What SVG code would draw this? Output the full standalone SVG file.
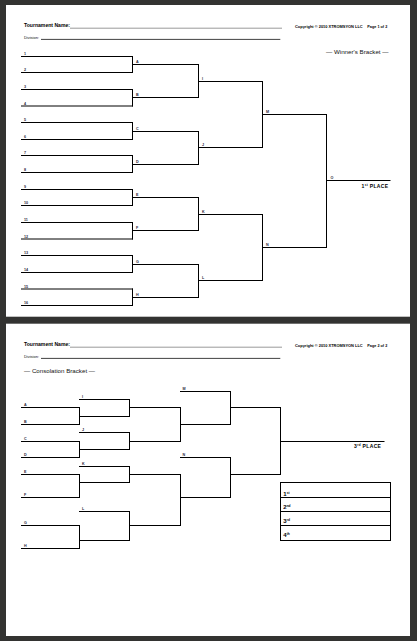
<svg xmlns="http://www.w3.org/2000/svg" width="417" height="641" viewBox="0 0 417 641">
<style>
.ln{stroke:#000;stroke-width:1;fill:none;stroke-linecap:square}
.lb{font-family:"Liberation Sans",Arial,sans-serif;font-size:3.7px;font-weight:bold;fill:#2a2a3a}
.hd{font-family:"Liberation Sans",Arial,sans-serif;font-weight:bold;fill:#000}
.sm{font-family:"Liberation Sans",Arial,sans-serif;fill:#111}
.pl{font-family:"Liberation Sans",Arial,sans-serif;font-weight:bold;fill:#000;font-size:5px;letter-spacing:0.35px}
.bx{font-family:"Liberation Sans",Arial,sans-serif;font-weight:bold;fill:#000;font-size:6px}
</style>
<rect x="0" y="0" width="417" height="641" fill="#333331"/>
<rect x="6" y="5" width="404" height="311.7" fill="#fff"/>
<rect x="6" y="323.7" width="404" height="312.3" fill="#fff"/>

<!-- Page 1 header -->
<g id="header1">
<text class="hd" x="24" y="27" font-size="6.2" textLength="46" lengthAdjust="spacingAndGlyphs">Tournament Name:</text>
<line x1="70" y1="28.2" x2="282" y2="28.2" stroke="#555" stroke-width="0.6"/>
<text class="hd" x="295" y="27.6" font-size="3.2" textLength="67.7" lengthAdjust="spacingAndGlyphs">Copyright © 2010 XTROMSYON LLC</text>
<text class="hd" x="367.3" y="27.6" font-size="3.2" textLength="20" lengthAdjust="spacingAndGlyphs">Page 1 of 2</text>
<text class="sm" x="24" y="38.8" font-size="3.4" textLength="15" lengthAdjust="spacingAndGlyphs">Division:</text>
<line x1="41" y1="39.4" x2="280.3" y2="39.4" stroke="#111" stroke-width="0.8"/>
<text class="sm" x="326" y="53.6" font-size="4.7" textLength="62.5" lengthAdjust="spacingAndGlyphs">— Winner's Bracket —</text>
</g>

<!-- Winner's bracket round 1 slots -->
<g id="w-r1">
<g id="w1"><line class="ln" x1="21.5" y1="56.5" x2="132.5" y2="56.5"/><text class="lb" x="24" y="55">1</text></g>
<g id="w2"><line class="ln" x1="21.5" y1="72.5" x2="132.5" y2="72.5"/><text class="lb" x="24" y="71">2</text></g>
<g id="w3"><line class="ln" x1="21.5" y1="89.5" x2="132.5" y2="89.5"/><text class="lb" x="24" y="88">3</text></g>
<g id="w4"><line class="ln" x1="21.5" y1="106" x2="132.5" y2="106"/><text class="lb" x="24" y="104.5">4</text></g>
<g id="w5"><line class="ln" x1="21.5" y1="122.5" x2="132.5" y2="122.5"/><text class="lb" x="24" y="121">5</text></g>
<g id="w6"><line class="ln" x1="21.5" y1="139.5" x2="132.5" y2="139.5"/><text class="lb" x="24" y="138">6</text></g>
<g id="w7"><line class="ln" x1="21.5" y1="155.5" x2="132.5" y2="155.5"/><text class="lb" x="24" y="154">7</text></g>
<g id="w8"><line class="ln" x1="21.5" y1="172.5" x2="132.5" y2="172.5"/><text class="lb" x="24" y="171">8</text></g>
<g id="w9"><line class="ln" x1="21.5" y1="189.5" x2="132.5" y2="189.5"/><text class="lb" x="24" y="188">9</text></g>
<g id="w10"><line class="ln" x1="21.5" y1="205.5" x2="132.5" y2="205.5"/><text class="lb" x="24" y="204">10</text></g>
<g id="w11"><line class="ln" x1="21.5" y1="222.5" x2="132.5" y2="222.5"/><text class="lb" x="24" y="221">11</text></g>
<g id="w12"><line class="ln" x1="21.5" y1="239" x2="132.5" y2="239"/><text class="lb" x="24" y="237.5">12</text></g>
<g id="w13"><line class="ln" x1="21.5" y1="255.5" x2="132.5" y2="255.5"/><text class="lb" x="24" y="254">13</text></g>
<g id="w14"><line class="ln" x1="21.5" y1="272.5" x2="132.5" y2="272.5"/><text class="lb" x="24" y="271">14</text></g>
<g id="w15"><line class="ln" x1="21.5" y1="289" x2="132.5" y2="289"/><text class="lb" x="24" y="287.5">15</text></g>
<g id="w16"><line class="ln" x1="21.5" y1="305.5" x2="132.5" y2="305.5"/><text class="lb" x="24" y="304">16</text></g>
</g>

<!-- Winner's round 2 -->
<g id="w-r2">
<g id="wA"><line class="ln" x1="132.5" y1="64.5" x2="198.5" y2="64.5"/><text class="lb" x="136" y="63">A</text></g>
<g id="wB"><line class="ln" x1="132.5" y1="97.5" x2="198.5" y2="97.5"/><text class="lb" x="136" y="96">B</text></g>
<g id="wC"><line class="ln" x1="132.5" y1="131.5" x2="198.5" y2="131.5"/><text class="lb" x="136" y="130">C</text></g>
<g id="wD"><line class="ln" x1="132.5" y1="164.5" x2="198.5" y2="164.5"/><text class="lb" x="136" y="163">D</text></g>
<g id="wE"><line class="ln" x1="132.5" y1="197.5" x2="198.5" y2="197.5"/><text class="lb" x="136" y="196">E</text></g>
<g id="wF"><line class="ln" x1="132.5" y1="230.5" x2="198.5" y2="230.5"/><text class="lb" x="136" y="229">F</text></g>
<g id="wG"><line class="ln" x1="132.5" y1="264.5" x2="198.5" y2="264.5"/><text class="lb" x="136" y="263">G</text></g>
<g id="wH"><line class="ln" x1="132.5" y1="297.5" x2="198.5" y2="297.5"/><text class="lb" x="136" y="296">H</text></g>
</g>

<!-- Winner's round 3 -->
<g id="w-r3">
<g id="wI"><line class="ln" x1="198.5" y1="81.5" x2="262.5" y2="81.5"/><text class="lb" x="202" y="80">I</text></g>
<g id="wJ"><line class="ln" x1="198.5" y1="147.5" x2="262.5" y2="147.5"/><text class="lb" x="202" y="146">J</text></g>
<g id="wK"><line class="ln" x1="198.5" y1="214.5" x2="262.5" y2="214.5"/><text class="lb" x="202" y="213">K</text></g>
<g id="wL"><line class="ln" x1="198.5" y1="280.5" x2="262.5" y2="280.5"/><text class="lb" x="202" y="279">L</text></g>
</g>

<!-- Winner's round 4 & final -->
<g id="w-r4">
<g id="wM"><line class="ln" x1="262.5" y1="114.5" x2="326.5" y2="114.5"/><text class="lb" x="266" y="113">M</text></g>
<g id="wN"><line class="ln" x1="262.5" y1="247.5" x2="326.5" y2="247.5"/><text class="lb" x="266" y="246">N</text></g>
</g>
<g id="w-final">
<line class="ln" x1="326.5" y1="180.5" x2="390" y2="180.5"/>
<text class="lb" x="330.5" y="179">O</text>
<text class="pl" x="361.5" y="187.6">1<tspan font-size="3" dy="-1.6">st</tspan><tspan dy="1.6"> PLACE</tspan></text>
</g>

<!-- Winner's connectors -->
<g id="w-connectors" class="ln">
<line x1="132.5" y1="56.5" x2="132.5" y2="72.5"/>
<line x1="132.5" y1="89.5" x2="132.5" y2="106"/>
<line x1="132.5" y1="122.5" x2="132.5" y2="139.5"/>
<line x1="132.5" y1="155.5" x2="132.5" y2="172.5"/>
<line x1="132.5" y1="189.5" x2="132.5" y2="205.5"/>
<line x1="132.5" y1="222.5" x2="132.5" y2="239"/>
<line x1="132.5" y1="255.5" x2="132.5" y2="272.5"/>
<line x1="132.5" y1="289" x2="132.5" y2="305.5"/>
<line x1="198.5" y1="64.5" x2="198.5" y2="97.5"/>
<line x1="198.5" y1="131.5" x2="198.5" y2="164.5"/>
<line x1="198.5" y1="197.5" x2="198.5" y2="230.5"/>
<line x1="198.5" y1="264.5" x2="198.5" y2="297.5"/>
<line x1="262.5" y1="81.5" x2="262.5" y2="147.5"/>
<line x1="262.5" y1="214.5" x2="262.5" y2="280.5"/>
<line x1="326.5" y1="114.5" x2="326.5" y2="247.5"/>
</g>

<!-- Page 2 header -->
<g id="header2">
<text class="hd" x="24" y="346" font-size="6.2" textLength="46" lengthAdjust="spacingAndGlyphs">Tournament Name:</text>
<line x1="70" y1="347.2" x2="282" y2="347.2" stroke="#555" stroke-width="0.6"/>
<text class="hd" x="295" y="346.6" font-size="3.2" textLength="67.7" lengthAdjust="spacingAndGlyphs">Copyright © 2010 XTROMSYON LLC</text>
<text class="hd" x="367.3" y="346.6" font-size="3.2" textLength="20" lengthAdjust="spacingAndGlyphs">Page 2 of 2</text>
<text class="sm" x="24" y="357.8" font-size="3.4" textLength="15" lengthAdjust="spacingAndGlyphs">Division:</text>
<line x1="41" y1="358.4" x2="280.3" y2="358.4" stroke="#111" stroke-width="0.8"/>
<text class="sm" x="24" y="373.2" font-size="4.7" textLength="71" lengthAdjust="spacingAndGlyphs">— Consolation Bracket —</text>
</g>

<!-- Consolation round 1 -->
<g id="c-r1">
<g id="cA"><line class="ln" x1="21.5" y1="407.5" x2="79.5" y2="407.5"/><text class="lb" x="24" y="406">A</text></g>
<g id="cB"><line class="ln" x1="21.5" y1="424.5" x2="79.5" y2="424.5"/><text class="lb" x="24" y="423">B</text></g>
<g id="cC"><line class="ln" x1="21.5" y1="441.5" x2="79.5" y2="441.5"/><text class="lb" x="24" y="440">C</text></g>
<g id="cD"><line class="ln" x1="21.5" y1="457.5" x2="79.5" y2="457.5"/><text class="lb" x="24" y="456">D</text></g>
<g id="cE"><line class="ln" x1="21.5" y1="474.5" x2="79.5" y2="474.5"/><text class="lb" x="24" y="473">E</text></g>
<g id="cF"><line class="ln" x1="21.5" y1="497.5" x2="79.5" y2="497.5"/><text class="lb" x="24" y="496">F</text></g>
<g id="cG"><line class="ln" x1="21.5" y1="525.5" x2="79.5" y2="525.5"/><text class="lb" x="24" y="524">G</text></g>
<g id="cH"><line class="ln" x1="21.5" y1="548.5" x2="79.5" y2="548.5"/><text class="lb" x="24" y="547">H</text></g>
</g>

<!-- Consolation round 2 -->
<g id="c-r2">
<g id="cI"><line class="ln" x1="79.5" y1="399.5" x2="129.5" y2="399.5"/><text class="lb" x="82" y="398">I</text></g>
<g id="cAB"><line class="ln" x1="79.5" y1="416.5" x2="129.5" y2="416.5"/></g>
<g id="cJ"><line class="ln" x1="79.5" y1="432.5" x2="129.5" y2="432.5"/><text class="lb" x="82" y="431">J</text></g>
<g id="cCD"><line class="ln" x1="79.5" y1="449.5" x2="129.5" y2="449.5"/></g>
<g id="cK"><line class="ln" x1="79.5" y1="466.5" x2="129.5" y2="466.5"/><text class="lb" x="82" y="465">K</text></g>
<g id="cEF"><line class="ln" x1="79.5" y1="482.5" x2="129.5" y2="482.5"/></g>
<g id="cL"><line class="ln" x1="79.5" y1="511.5" x2="129.5" y2="511.5"/><text class="lb" x="82" y="510">L</text></g>
<g id="cGH"><line class="ln" x1="79.5" y1="540.5" x2="129.5" y2="540.5"/></g>
</g>

<!-- Consolation round 3 -->
<g id="c-r3">
<g id="c3a"><line class="ln" x1="129.5" y1="407.5" x2="180.5" y2="407.5"/></g>
<g id="c3b"><line class="ln" x1="129.5" y1="441.5" x2="180.5" y2="441.5"/></g>
<g id="c3c"><line class="ln" x1="129.5" y1="474.5" x2="180.5" y2="474.5"/></g>
<g id="c3d"><line class="ln" x1="129.5" y1="525.5" x2="180.5" y2="525.5"/></g>
</g>

<!-- Consolation round 4 -->
<g id="c-r4">
<g id="cM"><line class="ln" x1="180.5" y1="391.5" x2="230.5" y2="391.5"/><text class="lb" x="182.5" y="390">M</text></g>
<g id="c4a"><line class="ln" x1="180.5" y1="424.5" x2="230.5" y2="424.5"/></g>
<g id="cN"><line class="ln" x1="180.5" y1="457.5" x2="230.5" y2="457.5"/><text class="lb" x="182.5" y="456">N</text></g>
<g id="c4b"><line class="ln" x1="180.5" y1="497.5" x2="230.5" y2="497.5"/></g>
</g>

<!-- Consolation round 5 & third place -->
<g id="c-r5">
<g id="c5a"><line class="ln" x1="230.5" y1="407.5" x2="280.5" y2="407.5"/></g>
<g id="c5b"><line class="ln" x1="230.5" y1="474.5" x2="280.5" y2="474.5"/></g>
</g>
<g id="c-third">
<line class="ln" x1="280.5" y1="441.5" x2="384" y2="441.5"/>
<text class="pl" x="354" y="447.6">3<tspan font-size="3" dy="-1.6">rd</tspan><tspan dy="1.6"> PLACE</tspan></text>
</g>

<!-- Consolation connectors -->
<g id="c-connectors" class="ln">
<line x1="79.5" y1="407.5" x2="79.5" y2="424.5"/>
<line x1="79.5" y1="441.5" x2="79.5" y2="457.5"/>
<line x1="79.5" y1="474.5" x2="79.5" y2="497.5"/>
<line x1="79.5" y1="525.5" x2="79.5" y2="548.5"/>
<line x1="129.5" y1="399.5" x2="129.5" y2="416.5"/>
<line x1="129.5" y1="432.5" x2="129.5" y2="449.5"/>
<line x1="129.5" y1="466.5" x2="129.5" y2="482.5"/>
<line x1="129.5" y1="511.5" x2="129.5" y2="540.5"/>
<line x1="180.5" y1="407.5" x2="180.5" y2="441.5"/>
<line x1="180.5" y1="474.5" x2="180.5" y2="525.5"/>
<line x1="230.5" y1="391.5" x2="230.5" y2="424.5"/>
<line x1="230.5" y1="457.5" x2="230.5" y2="497.5"/>
<line x1="280.5" y1="407.5" x2="280.5" y2="474.5"/>
</g>

<!-- Final standings box -->
<g id="standings">
<rect class="ln" x="280.5" y="482.5" width="110" height="58"/>
<line class="ln" x1="280.5" y1="497.5" x2="390.5" y2="497.5"/>
<line class="ln" x1="280.5" y1="511.5" x2="390.5" y2="511.5"/>
<line class="ln" x1="280.5" y1="525.5" x2="390.5" y2="525.5"/>
<text class="bx" x="283.3" y="495.6">1<tspan font-size="3.2" dy="-2">st</tspan></text>
<text class="bx" x="283.3" y="509.4">2<tspan font-size="3.2" dy="-2">nd</tspan></text>
<text class="bx" x="283.3" y="523.4">3<tspan font-size="3.2" dy="-2">rd</tspan></text>
<text class="bx" x="283.3" y="537.4">4<tspan font-size="3.2" dy="-2">th</tspan></text>
</g>
</svg>
